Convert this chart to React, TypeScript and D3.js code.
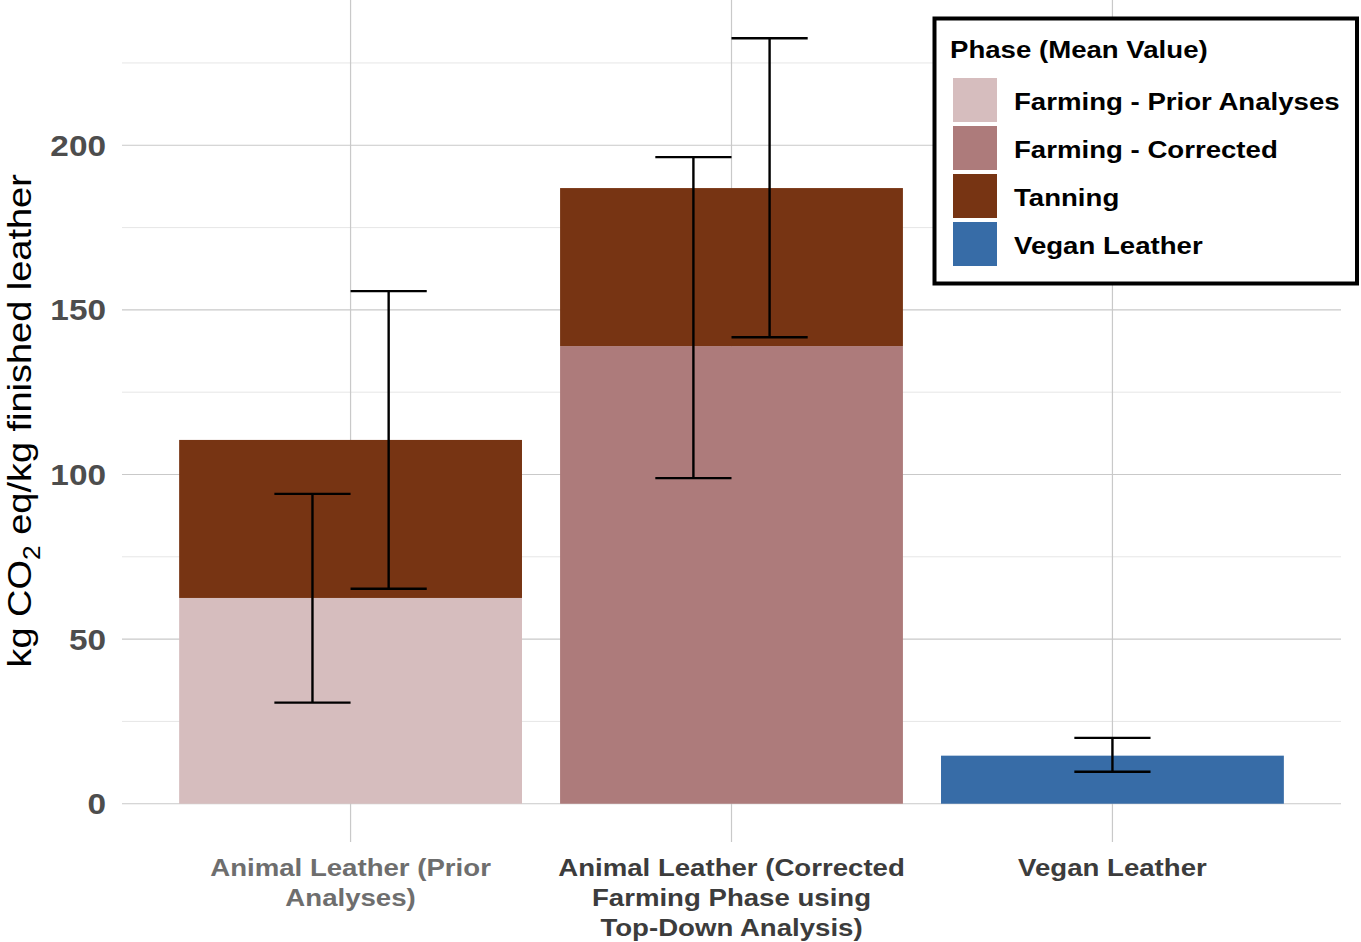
import { useEffect, useRef } from "react";
import * as d3 from "d3";

const categories = [
  "Animal Leather (Prior Analyses)",
  "Animal Leather (Corrected Farming Phase using Top-Down Analysis)",
  "Vegan Leather",
];
const categoryLines = [
  ["Animal Leather (Prior", "Analyses)"],
  ["Animal Leather (Corrected", "Farming Phase using", "Top-Down Analysis)"],
  ["Vegan Leather"],
];
const categoryLabelColors = ["#6e6e6e", "#3c3c3c", "#3c3c3c"];

const phases = [
  "Farming - Prior Analyses",
  "Farming - Corrected",
  "Tanning",
  "Vegan Leather",
];
const phaseColors = ["#d6bdbe", "#ad7b7b", "#773413", "#376ca7"];

// stacked segments, bottom to top within each category
const segCategory = [0, 0, 1, 1, 2];
const segPhase = [0, 2, 1, 2, 3];
const segValue = [62.5, 48.0, 139.0, 48.0, 14.6];

// error bars: offset is in steps relative to the category centre
const errCategory = [0, 0, 1, 1, 2];
const errOffset = [-0.1, 0.1, -0.1, 0.1, 0];
const errLow = [30.7, 65.3, 98.9, 141.7, 9.7];
const errHigh = [94.1, 155.7, 196.4, 232.5, 20.0];

const majorTicks = [0, 50, 100, 150, 200];
const minorTicks = [25, 75, 125, 175, 225];

const W = 1361;
const H = 942;
const panel = { left: 122, right: 1341, top: 0, bottom: 842 };
const font = "'Liberation Sans', Arial, sans-serif";
// the type is set a little wide
const stretch = 1.15;

export default function App() {
  const ref = useRef<SVGSVGElement>(null);

  useEffect(() => {
    if (!ref.current) return;
    const svg = d3.select(ref.current);
    svg.selectAll("*").remove();

    const x = d3
      .scalePoint<string>()
      .domain(categories)
      .range([panel.left, panel.right])
      .padding(0.6);
    const step = x.step();

    const maxVal = d3.max(errHigh) ?? 0;
    const pad = maxVal * 0.05;
    const y = d3
      .scaleLinear()
      .domain([-pad, maxVal + pad])
      .range([panel.bottom, panel.top]);

    const label = (px: number, py: number, rotate = 0) =>
      svg
        .append("text")
        .attr(
          "transform",
          `translate(${px},${py})${rotate ? ` rotate(${rotate})` : ""} scale(${stretch},1)`
        )
        .attr("font-family", font);

    // grid
    svg
      .selectAll("line.minor")
      .data(minorTicks)
      .join("line")
      .attr("x1", panel.left)
      .attr("x2", panel.right)
      .attr("y1", (d) => y(d))
      .attr("y2", (d) => y(d))
      .attr("stroke", "#e6e6e6")
      .attr("stroke-width", 1);
    svg
      .selectAll("line.major")
      .data(majorTicks)
      .join("line")
      .attr("x1", panel.left)
      .attr("x2", panel.right)
      .attr("y1", (d) => y(d))
      .attr("y2", (d) => y(d))
      .attr("stroke", "#c9c9c9")
      .attr("stroke-width", 1.2);
    svg
      .selectAll("line.vgrid")
      .data(categories)
      .join("line")
      .attr("x1", (d) => x(d)!)
      .attr("x2", (d) => x(d)!)
      .attr("y1", panel.top)
      .attr("y2", panel.bottom)
      .attr("stroke", "#c9c9c9")
      .attr("stroke-width", 1.2);

    // stacked bars
    const barW = step * 0.9;
    const base: number[] = categories.map(() => 0);
    const segs = segValue.map((v, i) => {
      const c = segCategory[i];
      const y0 = base[c];
      base[c] += v;
      return { c, p: segPhase[i], y0, y1: base[c] };
    });
    svg
      .selectAll("rect.seg")
      .data(segs)
      .join("rect")
      .attr("x", (d) => x(categories[d.c])! - barW / 2)
      .attr("width", barW)
      .attr("y", (d) => y(d.y1))
      .attr("height", (d) => y(d.y0) - y(d.y1))
      .attr("fill", (d) => phaseColors[d.p]);

    // error bars
    const capW = step * 0.2;
    errLow.forEach((lo, i) => {
      const cx = x(categories[errCategory[i]])! + errOffset[i] * step;
      const g = svg
        .append("g")
        .attr("stroke", "#000")
        .attr("stroke-width", 2.4);
      g.append("line")
        .attr("x1", cx)
        .attr("x2", cx)
        .attr("y1", y(lo))
        .attr("y2", y(errHigh[i]));
      [lo, errHigh[i]].forEach((v) =>
        g
          .append("line")
          .attr("x1", cx - capW / 2)
          .attr("x2", cx + capW / 2)
          .attr("y1", y(v))
          .attr("y2", y(v))
      );
    });

    // y tick labels
    majorTicks.forEach((t) =>
      label(106, y(t))
        .attr("dy", "0.36em")
        .attr("text-anchor", "end")
        .attr("font-weight", "bold")
        .attr("font-size", 29)
        .attr("fill", "#4d4d4d")
        .text(t)
    );

    // x labels
    categories.forEach((c, i) => {
      const t = label(x(c)!, 876)
        .attr("text-anchor", "middle")
        .attr("font-weight", "bold")
        .attr("font-size", 24)
        .attr("fill", categoryLabelColors[i]);
      categoryLines[i].forEach((line, j) =>
        t.append("tspan").attr("x", 0).attr("y", j * 30).text(line)
      );
    });

    // y title
    const yt = label(31, (y(0) + 38) / 2, -90)
      .attr("text-anchor", "middle")
      .attr("font-size", 33)
      .attr("fill", "#000");
    yt.append("tspan").text("kg CO");
    yt.append("tspan").attr("font-size", 23).attr("dy", 9).text("2");
    yt.append("tspan").attr("dy", -9).text(" eq/kg finished leather");

    // legend
    svg
      .append("rect")
      .attr("x", 934.5)
      .attr("y", 18.5)
      .attr("width", 422.5)
      .attr("height", 265)
      .attr("fill", "#fff")
      .attr("stroke", "#000")
      .attr("stroke-width", 4);
    label(950, 58)
      .attr("font-weight", "bold")
      .attr("font-size", 24)
      .attr("fill", "#000")
      .text("Phase (Mean Value)");
    phases.forEach((p, i) => {
      svg
        .append("rect")
        .attr("x", 953)
        .attr("y", 78 + i * 48)
        .attr("width", 44)
        .attr("height", 44)
        .attr("fill", phaseColors[i]);
      label(1014, 110 + i * 48)
        .attr("font-weight", "bold")
        .attr("font-size", 24)
        .attr("fill", "#000")
        .text(p);
    });
  }, []);

  return (
    <div style={{ position: "absolute", left: 0, top: 0, background: "#fff" }}>
      <svg ref={ref} width={W} height={H} viewBox={`0 0 ${W} ${H}`} />
    </div>
  );
}
